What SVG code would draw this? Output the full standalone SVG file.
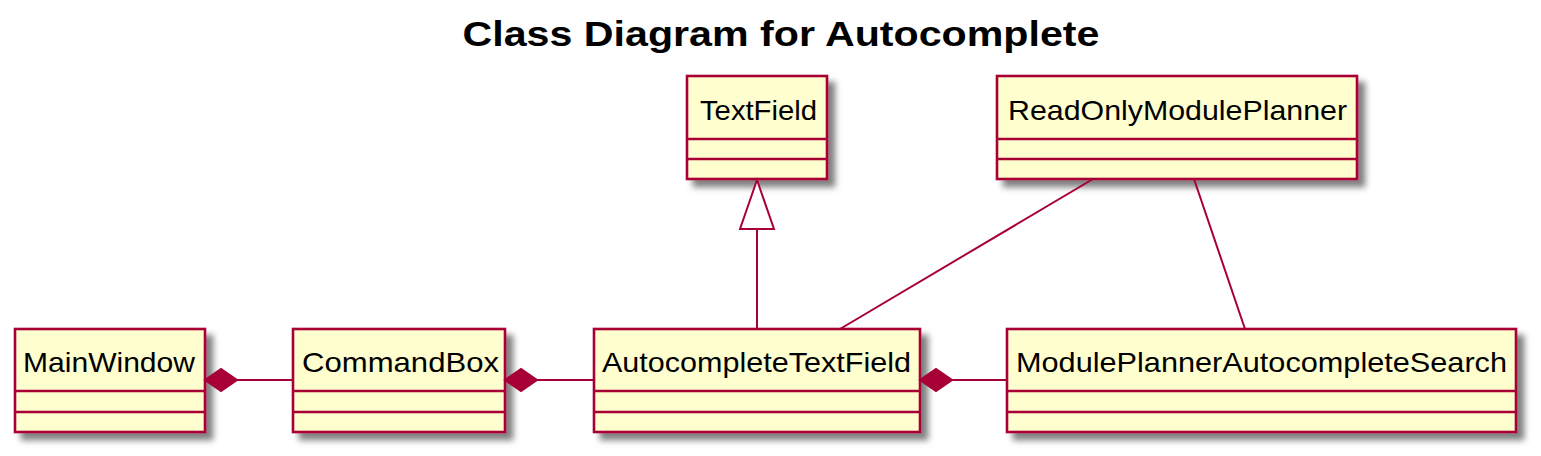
<svg xmlns="http://www.w3.org/2000/svg" width="1541" height="456" viewBox="0 0 1541 456">
<style>
.box{fill:#FEFECE;stroke:#A80036;stroke-width:2.6}
.sep{stroke:#A80036;stroke-width:2.6}
.lbl{font-family:"Liberation Sans",Arial,sans-serif;font-size:28.5px;fill:#000}
.ttl{font-family:"Liberation Sans",Arial,sans-serif;font-size:35px;font-weight:bold;fill:#000}
.ln{stroke:#A80036;stroke-width:2;fill:none}
.dia{fill:#A80036;stroke:#A80036;stroke-width:2}
.tri{fill:#FFFFFF;stroke:#A80036;stroke-width:2}
</style>
<defs>
<filter id="sh" x="-10%" y="-10%" width="130%" height="150%">
<feGaussianBlur in="SourceAlpha" stdDeviation="3"/>
<feOffset dx="7" dy="7" result="b"/>
<feComponentTransfer><feFuncA type="linear" slope="0.5"/></feComponentTransfer>
<feMerge><feMergeNode/><feMergeNode in="SourceGraphic"/></feMerge>
</filter>
</defs>
<rect width="1541" height="456" fill="#FFFFFF"/>
<text class="ttl" x="781" y="46" text-anchor="middle" textLength="637" lengthAdjust="spacingAndGlyphs">Class Diagram for Autocomplete</text>

<g id="TextField">
<rect class="box" x="687" y="76" width="140" height="103" filter="url(#sh)"/>
<line class="sep" x1="687" y1="139" x2="827" y2="139"/>
<line class="sep" x1="687" y1="159" x2="827" y2="159"/>
<text class="lbl" x="700" y="120" textLength="117" lengthAdjust="spacingAndGlyphs">TextField</text>
</g>
<g id="ReadOnlyModulePlanner">
<rect class="box" x="997" y="76" width="360" height="103" filter="url(#sh)"/>
<line class="sep" x1="997" y1="139" x2="1357" y2="139"/>
<line class="sep" x1="997" y1="159" x2="1357" y2="159"/>
<text class="lbl" x="1008" y="120" textLength="339" lengthAdjust="spacingAndGlyphs">ReadOnlyModulePlanner</text>
</g>
<g id="MainWindow">
<rect class="box" x="15" y="329" width="190" height="103" filter="url(#sh)"/>
<line class="sep" x1="15" y1="391" x2="205" y2="391"/>
<line class="sep" x1="15" y1="412" x2="205" y2="412"/>
<text class="lbl" x="23" y="372" textLength="172" lengthAdjust="spacingAndGlyphs">MainWindow</text>
</g>
<g id="CommandBox">
<rect class="box" x="293" y="329" width="212" height="103" filter="url(#sh)"/>
<line class="sep" x1="293" y1="391" x2="505" y2="391"/>
<line class="sep" x1="293" y1="412" x2="505" y2="412"/>
<text class="lbl" x="302" y="372" textLength="197" lengthAdjust="spacingAndGlyphs">CommandBox</text>
</g>
<g id="AutocompleteTextField">
<rect class="box" x="594" y="329" width="326" height="103" filter="url(#sh)"/>
<line class="sep" x1="594" y1="391" x2="920" y2="391"/>
<line class="sep" x1="594" y1="412" x2="920" y2="412"/>
<text class="lbl" x="602" y="372" textLength="309" lengthAdjust="spacingAndGlyphs">AutocompleteTextField</text>
</g>
<g id="ModulePlannerAutocompleteSearch">
<rect class="box" x="1007" y="329" width="509" height="103" filter="url(#sh)"/>
<line class="sep" x1="1007" y1="391" x2="1516" y2="391"/>
<line class="sep" x1="1007" y1="412" x2="1516" y2="412"/>
<text class="lbl" x="1016" y="372" textLength="491" lengthAdjust="spacingAndGlyphs">ModulePlannerAutocompleteSearch</text>
</g>

<g id="connectors">
<line class="ln" x1="237" y1="380" x2="293" y2="380"/>
<polygon class="dia" points="205,380 221,369 237,380 221,391"/>
<line class="ln" x1="537" y1="380" x2="594" y2="380"/>
<polygon class="dia" points="505,380 521,369 537,380 521,391"/>
<line class="ln" x1="952" y1="380" x2="1007" y2="380"/>
<polygon class="dia" points="920,380 936,369 952,380 936,391"/>
<line class="ln" x1="757" y1="229" x2="757" y2="329"/>
<polygon class="tri" points="757,180 740,229 774,229"/>
<line class="ln" x1="1093" y1="179" x2="840" y2="329"/>
<line class="ln" x1="1194" y1="179" x2="1245" y2="329"/>
</g>
</svg>
